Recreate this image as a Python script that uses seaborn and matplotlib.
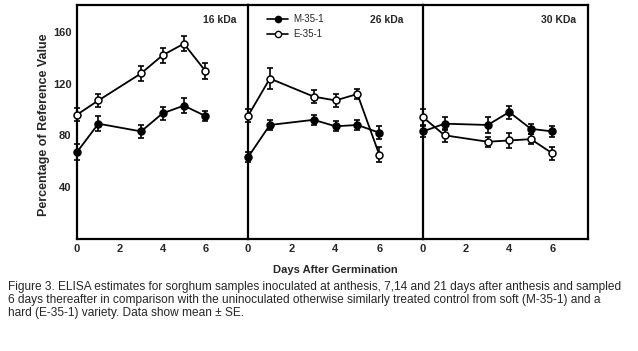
import numpy as np
import pandas as pd
import matplotlib
matplotlib.use("Agg")
import matplotlib.pyplot as plt
from matplotlib.lines import Line2D
import seaborn as sns

sns.set_theme(style="white")
plt.rcParams['font.family'] = ['Liberation Sans', 'DejaVu Sans']

days = [0, 1, 3, 4, 5, 6]
panels = ["16 kDa", "26 kDa", "30 KDa"]
series = ["M-35-1", "E-35-1"]

m_16 = [67, 89, 83, 97, 103, 95]
m_16_se = [6, 6, 5, 5, 6, 4]
e_16 = [96, 107, 128, 142, 151, 130]
e_16_se = [5, 5, 6, 6, 6, 6]

m_26 = [63, 88, 92, 87, 88, 82]
m_26_se = [4, 4, 4, 4, 4, 5]
e_26 = [95, 124, 110, 107, 112, 65]
e_26_se = [5, 8, 5, 5, 4, 6]

m_30 = [83, 89, 88, 98, 85, 83]
m_30_se = [4, 5, 6, 5, 4, 4]
e_30 = [94, 80, 75, 76, 77, 66]
e_30_se = [6, 5, 4, 6, 4, 5]

yticks = [40, 80, 120, 160]
xticks = [0, 2, 4, 6]

data = {
    "16 kDa": (m_16, m_16_se, e_16, e_16_se),
    "26 kDa": (m_26, m_26_se, e_26, e_26_se),
    "30 KDa": (m_30, m_30_se, e_30, e_30_se),
}

rows = []
for p in panels:
    m, ms, e, es = data[p]
    for d, v, s in zip(days, m, ms):
        rows.append(dict(panel=p, series="M-35-1", day=d, value=v, se=s))
    for d, v, s in zip(days, e, es):
        rows.append(dict(panel=p, series="E-35-1", day=d, value=v, se=s))
df = pd.DataFrame(rows)

fig = plt.figure(figsize=(6.38, 3.51), dpi=100)
W, H = 638, 351
bottom_px, top_px = 238.5, 5
edges = [(77, 248, 8.0), (248, 423, 8.0), (423, 588, 7.65)]
axes = []
for (l, r, xmax) in edges:
    ax = fig.add_axes([l / W, 1 - bottom_px / H, (r - l) / W, (bottom_px - top_px) / H])
    ax.set_xlim(0, xmax)
    ax.set_ylim(0, 181)
    axes.append(ax)

pos_x = [(220 - 77) / 171, (387 - 248) / 175, (559 - 423) / 165]
for i, (ax, p) in enumerate(zip(axes, panels)):
    sub = df[df.panel == p]
    for s, face in zip(series, ["black", "white"]):
        ss = sub[sub.series == s]
        eb = ax.errorbar(ss.day, ss.value, yerr=ss.se, fmt="none", ecolor="black",
                         elinewidth=1.2, capsize=2.2, capthick=1.2, zorder=4)
        for art in eb.get_children():
            art.set_clip_on(False)
        sns.lineplot(data=ss, x="day", y="value", ax=ax, color="black",
                     marker="o", markersize=5, markerfacecolor=face,
                     markeredgecolor="black", markeredgewidth=1.1,
                     linewidth=1.3, errorbar=None, zorder=5, legend=False,
                     clip_on=False)
    ax.set_xlabel("")
    ax.set_ylabel("")
    ax.set_xticks(xticks)
    ax.set_yticks(yticks)
    ax.tick_params(direction="in", length=4, width=1.2, color="black",
                   labelsize=8, pad=4)
    for t in ax.get_xticklabels() + ax.get_yticklabels():
        t.set_fontweight("bold")
    if i > 0:
        ax.set_yticklabels([])
    for sp in ax.spines.values():
        sp.set_color("black")
        sp.set_linewidth(1.6)
    if i < 2:
        ax.spines["right"].set_visible(False)
    ax.text(pos_x[i], 0.935, p, transform=ax.transAxes, ha="center", va="center",
            fontsize=7.5, fontweight="bold")

handles = [Line2D([], [], color="black", marker="o", markersize=4.5,
                  markerfacecolor=f, markeredgecolor="black", linewidth=1.2)
           for f in ["black", "white"]]
axes[1].legend(handles, series, loc="upper left", bbox_to_anchor=(0.07, 0.99),
               frameon=False, fontsize=7, handlelength=2.2, handletextpad=0.5,
               labelspacing=0.5, borderpad=0.2)

fig.text(335 / W, 1 - 270 / H, "Days After Germination", ha="center", va="center",
         fontsize=8, fontweight="bold")
fig.text(44 / W, 1 - 125 / H, "Percentage of Reference Value", ha="center",
         va="center", rotation=90, fontsize=9, fontweight="bold")

caption = ("Figure 3. ELISA estimates for sorghum samples inoculated at anthesis, 7,14 and 21 days after anthesis and sampled\n"
           "6 days thereafter in comparison with the uninoculated otherwise similarly treated control from soft (M-35-1) and a\n"
           "hard (E-35-1) variety. Data show mean \u00b1 SE.")
fig.text(8 / W, 1 - 281 / H, caption, ha="left", va="top", fontsize=8.6,
         linespacing=1.1)

fig.savefig("out.png", dpi=100)
